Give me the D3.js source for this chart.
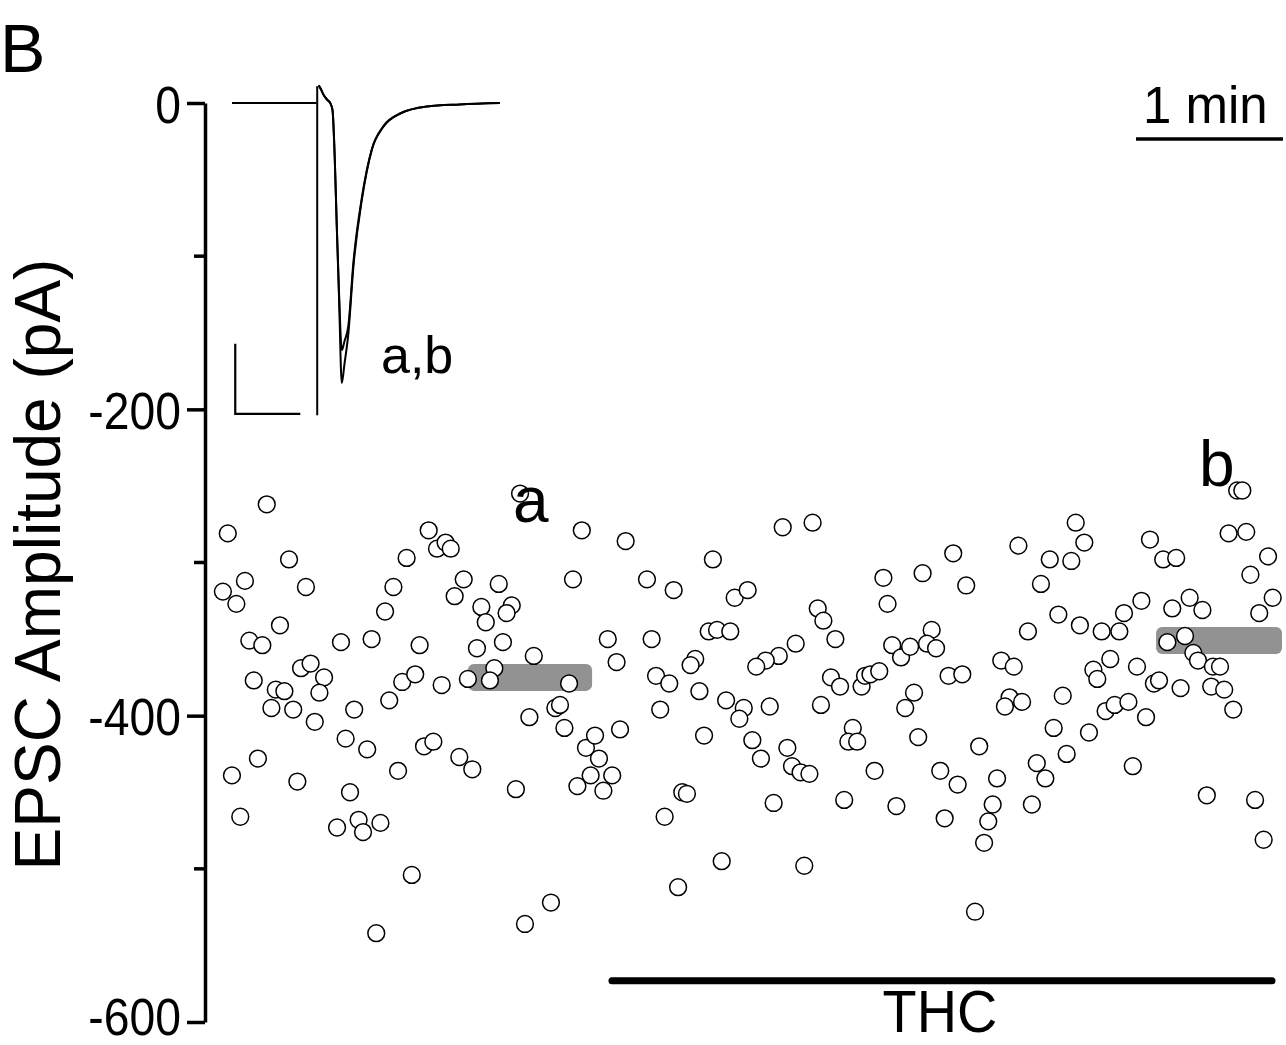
<!DOCTYPE html>
<html><head><meta charset="utf-8">
<script src="https://cdn.jsdelivr.net/npm/d3@7"></script>
<style>
html,body{margin:0;padding:0;background:#fff;}
svg{display:block;}
text{font-family:"Liberation Sans", Arial, Helvetica, sans-serif; fill:#000;}
</style>
</head><body>
<svg id="chart" width="1286" height="1045"></svg>
<script>
// ---- Data ----
// time of each sweep (s) and EPSC amplitude (pA)
const sweepTimes = [
 25.2,9.3,34.3,82.3,16.3,41.2,7.3,12.8,76.9,73.5,30.6,18.1,23.4,55.5,68.0,39.2,43.1,48.6,46.7,19.9,
 28.9,32.4,27.1,36.0,44.8,60.9,75.2,80.5,57.4,66.2,21.6,11.0,37.7,78.8,59.2,14.4,53.9,62.7,64.5,71.6,84.4,69.9,
 128.6,91.3,153.8,94.7,98.2,100.3,105.6,119.9,150.2,101.9,112.8,125.2,123.1,114.6,87.6,111.0,121.6,164.4,134.2,168.0,
 85.8,96.6,107.3,118.1,116.3,148.6,143.0,144.9,132.4,146.7,169.4,89.4,93.2,103.8,109.1,126.9,155.5,159.2,160.8,157.4,
 152.0,162.6,166.2,141.2,130.6,
 171.7,235.8,248.0,207.3,180.4,191.3,216.2,221.5,182.3,205.6,209.0,214.4,200.1,198.2,184.1,189.5,241.1,234.2,228.9,225.0,
 201.8,185.8,212.7,219.9,218.1,230.5,203.7,223.4,226.9,237.7,239.6,243.1,246.7,194.8,196.7,187.6,232.1,210.9,244.6,193.1,
 305.4,332.0,276.9,292.9,310.7,278.6,250.1,252.4,257.3,296.6,280.5,284.1,287.8,294.7,298.4,325.0,330.1,255.5,259.2,268.0,
 269.4,271.6,275.2,303.5,309.1,289.4,285.8,251.4,328.4,326.5,333.5,264.4,262.6,266.2,291.1,316.0,273.3,300.1,307.2,323.3,
 260.9,282.2,301.9,321.5,319.7,318.0,314.3,
 355.4,358.9,344.8,353.6,341.2,385.7,391.1,396.4,421.3,423.4,417.8,425.0,433.9,426.7,435.8,430.3,382.2,401.9,407.1,394.8,
 375.1,348.3,357.1,366.0,373.2,335.9,400.0,392.8,403.4,405.3,411.4,414.3,369.5,362.6,364.2,380.4,387.3,389.4,398.2,410.7,
 416.0,419.7,350.1,367.6,371.3,376.9,384.1,346.4,360.8,351.7,339.5,343.0,337.5,378.7,408.9,428.6,432.1
];
const epscAmps = [
 -262,-281,-298,-297,-312,-316,-319,-327,-316,-332,-341,-351,-354,-352,-350,-369,-366,-375,-385,-377,
 -383,-384,-395,-396,-404,-396,-390,-378,-415,-422,-428,-439,-443,-436,-450,-466,-473,-468,-476,-470,-504,-542,
 -255,-279,-279,-291,-287,-291,-311,-314,-311,-322,-329,-328,-333,-339,-354,-356,-352,-350,-361,-365,
 -373,-380,-376,-369,-377,-379,-395,-393,-401,-408,-409,-420,-417,-427,-435,-448,-421,-413,-428,-439,
 -446,-449,-439,-522,-536,
 -286,-277,-274,-298,-311,-318,-323,-318,-350,-345,-344,-345,-363,-367,-374,-379,-353,-361,-364,-368,
 -384,-396,-390,-395,-402,-394,-413,-416,-428,-421,-433,-437,-438,-450,-451,-466,-457,-495,-498,-512,
 -294,-289,-310,-307,-315,-327,-330,-338,-350,-344,-354,-362,-355,-353,-356,-364,-368,-375,-381,-381,
 -374,-373,-371,-374,-373,-385,-395,-393,-388,-394,-391,-408,-417,-417,-414,-420,-436,-436,-445,-441,
 -455,-459,-467,-458,-469,-483,-528,
 -274,-287,-298,-299,-314,-285,-298,-297,-253,-253,-281,-280,-296,-308,-323,-333,-325,-323,-331,-330,
 -333,-334,-341,-345,-345,-345,-348,-352,-359,-364,-368,-368,-363,-370,-376,-368,-379,-377,-382,-381,
 -383,-396,-387,-397,-393,-391,-401,-408,-411,-425,-431,-441,-458,-433,-452,-455,-481
];

// averaged periods (s) and their mean amplitude (pA)
const meanLabels = ["a", "b"];
const meanStart = [107.3, 388.2];
const meanEnd   = [158.0, 439.6];
const meanAmp   = [-375, -351];

// drug application period (s)
const drugName = "THC";
const drugStart = 166.1;
const drugEnd = 435.5;

// y axis ticks
const yTickValues = [0, -200, -400, -600];
const yTickLabels = ["0", "-200", "-400", "-600"];
const yMinorTicks = [-100, -300, -500];
const yLabel = "EPSC Amplitude (pA)";

// time scale bar (s)
const scaleBarStart = 380, scaleBarEnd = 440, scaleBarLabel = "1 min";

// inset trace: baseline before stimulus, stimulus artifact, then responses a and b
const baseTime = [0, 13.0];
const baseAmp  = [0, 0];
const artifactTime = 13.1;
const artifactAmp = [24, -446];
const traceTime = [13.3, 13.54, 14.0, 14.6, 15.1, 15.45, 15.8, 16.1, 16.46, 16.88, 17.3, 17.89, 18.66, 19.95, 21.49, 23.28, 25.85, 29.95, 35.0, 41.2];
const traceA    = [25, 22, 13, 5, 0, -10, -80, -175, -281, -400, -372, -329, -234, -139, -67, -34, -15, -5, -2, 0];
const traceB    = [25, 22, 13, 5, 0, -10, -80, -172, -272, -353, -340, -318, -228, -136, -66, -33, -15, -5, -2, 0];
const insetLabel = "a,b";
const insetBarTime = 10;   // ms
const insetBarAmp = 100;   // pA

// ---- Drawing ----
const svg = d3.select("#chart");
const x = d3.scaleLinear().domain([0, 480]).range([205, 1381]);
const y = d3.scaleLinear().domain([0, -600]).range([103, 1022]);

function condense(sel, ratio) {
  sel.each(function () {
    const len = this.getComputedTextLength();
    d3.select(this).attr("textLength", len * ratio).attr("lengthAdjust", "spacingAndGlyphs");
  });
}

// panel label
svg.append("text").attr("x", 0).attr("y", 72).attr("font-size", 68).text("B");

// y axis
const axis = d3.axisLeft(y).tickValues(yTickValues)
  .tickFormat((d, i) => yTickLabels[i]).tickSize(18).tickSizeOuter(0).tickPadding(6);
const gAxis = svg.append("g").attr("transform", "translate(205,0)").call(axis);
gAxis.select(".domain").attr("stroke", "#000").attr("stroke-width", 3.5);
gAxis.selectAll(".tick line").attr("stroke", "#000").attr("stroke-width", 3.5);
gAxis.selectAll(".tick text").attr("font-size", 52).attr("font-family", null)
  .attr("dy", null).attr("y", d => d === -600 ? 12 : 19).attr("fill", "#000");
condense(gAxis.selectAll(".tick text"), 0.89);
svg.append("g").attr("transform", "translate(205,0)")
  .selectAll("line").data(yMinorTicks).join("line")
  .attr("x1", -11).attr("x2", 0).attr("y1", d => y(d)).attr("y2", d => y(d))
  .attr("stroke", "#000").attr("stroke-width", 3.5);

// y label
svg.append("text").attr("transform", `translate(60,${(y(-100) + y(-500)) / 2 + 2}) rotate(-90)`)
  .attr("text-anchor", "middle").attr("font-size", 64).text(yLabel);

// inset trace
const ix = d3.scaleLinear().domain([0, 41.2]).range([232, 500]);
const iy = d3.scaleLinear().domain([0, -100]).range([103, 173]);
const straight = d3.line().x(d => ix(d[0])).y(d => iy(d[1]));
const smooth = d3.line().x(d => ix(d[0])).y(d => iy(d[1])).curve(d3.curveMonotoneX);
svg.append("path").datum(baseTime.map((t, i) => [t, baseAmp[i]]))
  .attr("d", straight).attr("fill", "none").attr("stroke", "#000").attr("stroke-width", 2);
svg.append("path").datum(artifactAmp.map(a => [artifactTime, a]))
  .attr("d", straight).attr("fill", "none").attr("stroke", "#000").attr("stroke-width", 2);
[traceA, traceB].forEach(tr => {
  svg.append("path").datum(traceTime.map((t, i) => [t, tr[i]]))
    .attr("d", smooth).attr("fill", "none").attr("stroke", "#000").attr("stroke-width", 2);
});
// inset scale bar
const sb0x = ix(0.5), sbY = iy(-444);
svg.append("path")
  .attr("d", `M${sb0x},${sbY - (iy(-insetBarAmp) - iy(0))}V${sbY}H${sb0x + ix(insetBarTime) - ix(0)}`)
  .attr("fill", "none").attr("stroke", "#000").attr("stroke-width", 2.2);
svg.append("text").attr("x", 381).attr("y", 373).attr("font-size", 52).text(insetLabel);

// mean bars
svg.selectAll("rect.mean").data(meanAmp).join("rect").attr("class", "mean")
  .attr("x", (d, i) => x(meanStart[i])).attr("width", (d, i) => x(meanEnd[i]) - x(meanStart[i]))
  .attr("y", d => y(d) - 13.5).attr("height", 27).attr("rx", 6)
  .attr("fill", "#929292");

// points
svg.append("g").selectAll("circle").data(sweepTimes).join("circle")
  .attr("cx", d => x(d)).attr("cy", (d, i) => y(epscAmps[i])).attr("r", 8.4)
  .attr("fill", "#fff").attr("stroke", "#000").attr("stroke-width", 1.5);

// a / b labels
svg.append("text").attr("x", x(125.7)).attr("y", 522).attr("font-size", 64).text(meanLabels[0]);
svg.append("text").attr("x", x(407.3) - 4).attr("y", 486).attr("font-size", 64).text(meanLabels[1]);

// drug bar
svg.append("line").attr("x1", x(drugStart)).attr("x2", x(drugEnd))
  .attr("y1", y(-573)).attr("y2", y(-573))
  .attr("stroke", "#000").attr("stroke-width", 7).attr("stroke-linecap", "round");
const thc = svg.append("text").attr("x", x((drugStart + drugEnd) / 2) - 2).attr("y", 1032)
  .attr("text-anchor", "middle").attr("font-size", 60).text(drugName);
condense(thc, 0.93);

// time scale bar
svg.append("line").attr("x1", x(scaleBarStart)).attr("x2", x(scaleBarEnd))
  .attr("y1", 139).attr("y2", 139).attr("stroke", "#000").attr("stroke-width", 3.5);
svg.append("text").attr("x", 1143).attr("y", 123).attr("font-size", 51).text(scaleBarLabel);
</script>
</body></html>
